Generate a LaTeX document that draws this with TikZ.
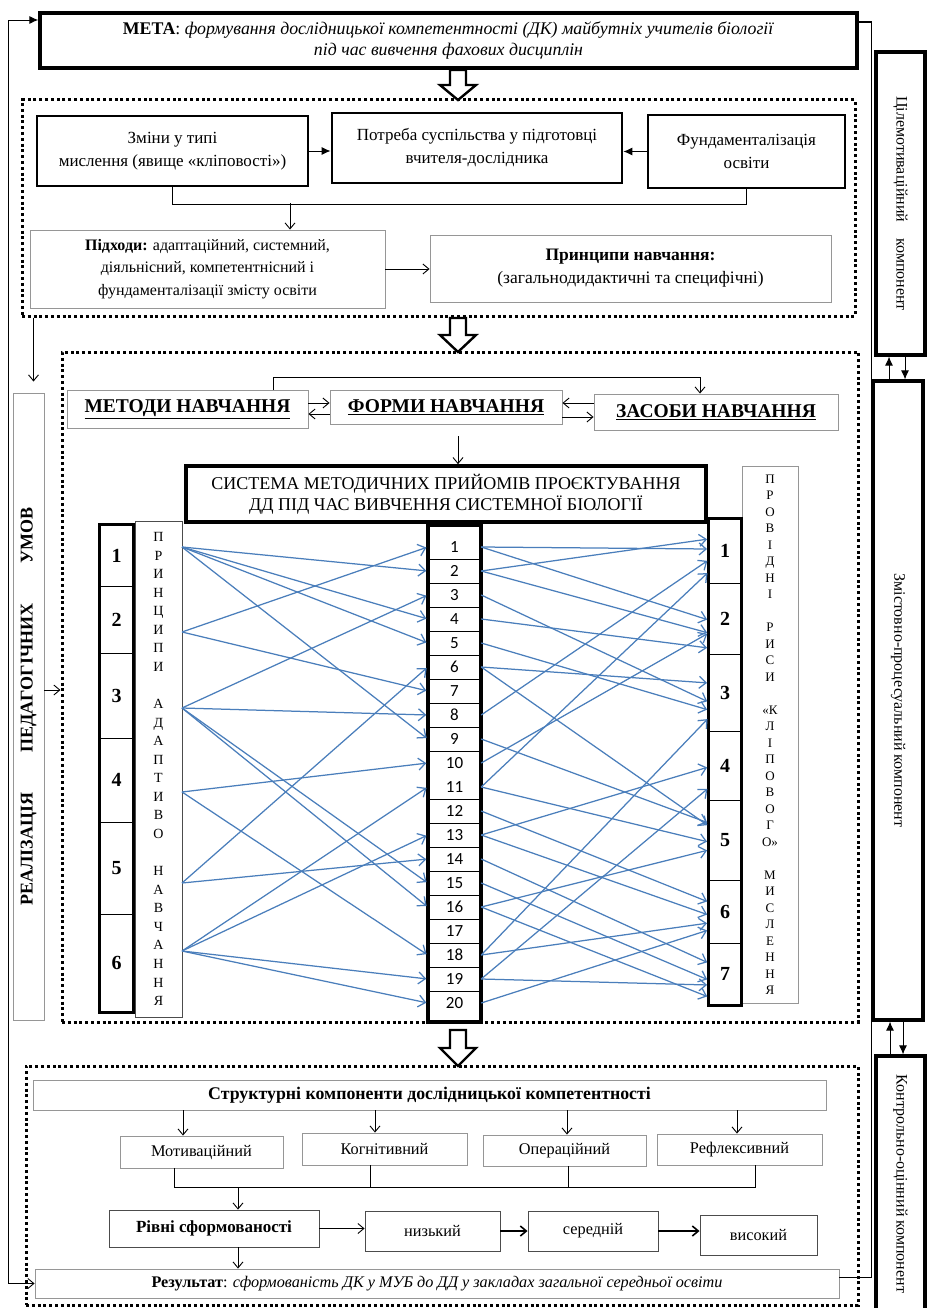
\documentclass[tikz,border=0pt]{standalone}
\usepackage{fontspec}
\setmainfont{Liberation Serif}
\newfontfamily\numfont{Carlito}
\usetikzlibrary{arrows.meta,positioning}
\definecolor{linkblue}{RGB}{74,126,187}
\definecolor{framegray}{RGB}{150,150,150}
\tikzset{
  >={Straight Barb[length=6pt,width=10pt]},
  bodyfont/.style={font=\fontsize{17}{23}\selectfont},
  thickbox/.style={draw, line width=2.8pt, align=center, inner sep=0pt, bodyfont},
  heavybox/.style={draw, line width=3.6pt, align=center, inner sep=0pt, bodyfont},
  thinbox/.style={draw=framegray, line width=0.9pt, align=center, inner sep=0pt, bodyfont},
  headbox/.style={thinbox, font=\fontsize{19.5}{22}\selectfont\bfseries},
  groupbox/.style={draw, line width=3pt, dash pattern=on 3pt off 2.8pt},
  numcell/.style={draw, line width=0.9pt, minimum width=33pt, inner sep=0pt, font=\fontsize{20}{24}\selectfont\bfseries},
  itemcell/.style={minimum width=53pt, minimum height=24pt, inner sep=0pt, font=\numfont\fontsize{17}{20}\selectfont},
  conn/.style={line width=0.9pt},
}
\begin{document}
\begin{tikzpicture}[x=1pt, y=-1pt]
\useasboundingbox (0,0) rectangle (928,1308);

% dotted groups
\node[groupbox, minimum width=833pt, minimum height=216pt] (grp1) at (438.5,208) {};
\node[groupbox, minimum width=796pt, minimum height=670pt] (grp2) at (460,687) {};
\node[groupbox, minimum width=832pt, minimum height=239pt] (grp3) at (442,1185.5) {};

% goal
\node[thickbox, line width=3.4pt, minimum width=817pt, minimum height=55pt, font=\fontsize{17.8}{21}\selectfont] (meta) at (448.5,40.5)
  {\textbf{МЕТА}: \textit{формування дослідницької компетентності (ДК) майбутніх учителів біології}\\ \textit{під час вивчення фахових дисциплін}};

% first group
\node[thickbox, minimum width=271pt, minimum height=70pt] (zm) at (172.5,151) {Зміни у типі\\мислення (явище «кліповості»)};
\node[thickbox, minimum width=290pt, minimum height=70pt] (pot) at (477,148) {Потреба суспільства у підготовці\\вчителя-дослідника};
\node[thickbox, minimum width=197pt, minimum height=73pt] (fund) at (746.5,151.5) {Фундаменталізація\\освіти};
\node[thinbox, minimum width=355pt, minimum height=78pt, font=\fontsize{16}{22.5}\selectfont] (pidh) at (207.5,269)
  {\textbf{Підходи:} адаптаційний, системний,\\діяльнісний, компетентнісний і\\фундаменталізації змісту освіти};
\node[thinbox, minimum width=401pt, minimum height=67pt, font=\fontsize{17.5}{23}\selectfont] (prin) at (630.5,268.5)
  {\textbf{Принципи навчання:}\\(загальнодидактичні та специфічні)};

\draw[conn, -{Latex[length=9pt,width=8pt]}] (zm.east) -- (zm.east -| pot.west);
\draw[conn, -{Latex[length=9pt,width=8pt]}] (fund.west) -- (fund.west -| pot.east);
\draw[conn] (zm.south) -- ++(0,17) -| (fund.south);
\coordinate (hub) at (290,203);
\draw[conn, ->] (hub) -- (hub |- pidh.north);
\draw[conn, ->] (pidh.east) -- (pidh.east -| prin.west);

% side column
\node[thinbox, minimum width=31pt, minimum height=627pt, font=\fontsize{18}{22}\selectfont\bfseries] (real) at (28.5,706.5)
  {\rotatebox{90}{РЕАЛІЗАЦІЯ\hspace{40pt}ПЕДАГОГІЧНИХ\hspace{40pt}УМОВ}};
\coordinate (gd) at ([xshift=13pt]grp1.south west);
\draw[conn, ->] (gd) -- ++(0,64);
\coordinate (rr) at ([yshift=16.5pt]real.east);
\draw[conn, ->] (rr) -- (rr -| grp2.west);

% methods, forms, means
\node[headbox, minimum width=241pt, minimum height=38pt] (met) at (187.5,409) {\underline{МЕТОДИ НАВЧАННЯ}};
\node[headbox, minimum width=232pt, minimum height=34pt] (form) at (446,407) {\underline{ФОРМИ НАВЧАННЯ}};
\node[headbox, minimum width=244pt, minimum height=36pt] (zas) at (716,412) {\underline{ЗАСОБИ НАВЧАННЯ}};
\coordinate (a1) at ([yshift=6pt]met.east);
\coordinate (a2) at ([yshift=-7pt]form.west);
\coordinate (a3) at ([yshift=9pt]zas.west);
\coordinate (a4) at ([yshift=-10pt]form.east);
\draw[conn, ->] (a1) -- (a1 -| form.west);
\draw[conn, ->] (a2) -- (a2 -| met.east);
\draw[conn, ->] (a3) -- (a3 -| form.east);
\draw[conn, ->] (a4) -- (a4 -| zas.west);
\coordinate (mtop) at ([xshift=85.5pt]met.north);
\coordinate (ztop) at ([xshift=-16pt]zas.north);
\draw[conn, ->] (mtop) -- ++(0,-12) -| (ztop);

\node[heavybox, minimum width=520pt, minimum height=56pt, font=\fontsize{18}{21}\selectfont] (sys) at (446,494)
  {СИСТЕМА МЕТОДИЧНИХ ПРИЙОМІВ ПРОЄКТУВАННЯ\\ДД ПІД ЧАС ВИВЧЕННЯ СИСТЕМНОЇ БІОЛОГІЇ};
\coordinate (fdrop) at ([xshift=12pt,yshift=-12pt]form.south);
\draw[conn, ->] (fdrop) -- (fdrop |- sys.north);

% principles of adaptive learning
\node[thinbox, draw=black!70, minimum width=47pt, minimum height=496pt, font=\fontsize{14}{18.56}\selectfont] (pr) at (158.5,769)
  {П\\Р\\И\\Н\\Ц\\И\\П\\И\\~\\А\\Д\\А\\П\\Т\\И\\В\\О\\~\\Н\\А\\В\\Ч\\А\\Н\\Н\\Я};
\node[numcell, minimum height=61pt] (l1) at (116.5,555.5) {1};
\node[numcell, minimum height=67pt] (l2) at (116.5,619.5) {2};
\node[numcell, minimum height=85pt] (l3) at (116.5,695.5) {3};
\node[numcell, minimum height=84pt] (l4) at (116.5,780) {4};
\node[numcell, minimum height=92pt] (l5) at (116.5,868) {5};
\node[numcell, minimum height=98pt] (l6) at (116.5,963) {6};
\draw[line width=3.6pt] (l1.north west) rectangle (l6.south east);

% methodical techniques
\foreach \i in {1,...,20}
  \node[itemcell] (m\i) at (454.5,{547+24*(\i-1)}) {\i};
\foreach \i in {1,...,9}
  \draw[line width=0.9pt] (m\i.south west) -- (m\i.south east);
\foreach \i in {11,...,19}
  \draw[line width=0.9pt] (m\i.south west) -- (m\i.south east);
\draw[line width=3.6pt] ([yshift=10pt]m1.north west) rectangle ([yshift=-7pt]m20.south east);

% leading features of clip thinking
\node[thinbox, minimum width=56pt, minimum height=537pt, font=\fontsize{13}{16.5}\selectfont] (rt) at (770,734.5)
  {П\\Р\\О\\В\\І\\Д\\Н\\І\\~\\Р\\И\\С\\И\\~\\«К\\Л\\І\\П\\О\\В\\О\\Г\\О»\\~\\М\\И\\С\\Л\\Е\\Н\\Н\\Я};
\node[numcell, minimum width=32pt, minimum height=64pt] (r1) at (725,551) {1};
\node[numcell, minimum width=32pt, minimum height=71pt] (r2) at (725,618.5) {2};
\node[numcell, minimum width=32pt, minimum height=77pt] (r3) at (725,692.5) {3};
\node[numcell, minimum width=32pt, minimum height=69pt] (r4) at (725,765.5) {4};
\node[numcell, minimum width=32pt, minimum height=80pt] (r5) at (725,840) {5};
\node[numcell, minimum width=32pt, minimum height=63pt] (r6) at (725,911.5) {6};
\node[numcell, minimum width=32pt, minimum height=62pt] (r7) at (725,974) {7};
\draw[line width=3.6pt] (r1.north west) rectangle (r7.south east);

% links
\coordinate (s1) at (182,547);
\coordinate (s2) at (182,632);
\coordinate (s3) at (182,708);
\coordinate (s4) at (182,792);
\coordinate (s5) at (182,883);
\coordinate (s6) at (182,951);
\begin{scope}[>={Straight Barb[length=7pt,width=12pt]},
              every edge/.style={draw=linkblue, line width=1.25pt, shorten >=1.5pt}]
  \foreach \s/\t in {1/2,1/4,1/5,1/9,2/1,2/7,3/3,3/8,3/15,3/16,4/10,4/18,5/6,5/14,6/11,6/13,6/19,6/20}
    \path[->] (s\s) edge (m\t.west);
  \foreach \s/\t/\d in {1/1/2,1/2/-1.5,2/1/12,2/2/-14.5,3/3/-9.5,4/2/-29.5,5/3/-17.5,6/3/9.5,6/5/14,
                        8/1/-9,9/5/17,10/2/-14.5,11/1/-21,11/5/-2,12/6/9.5,13/4/-1.5,13/6/-3.5,14/7/11,
                        15/7/-6,16/5/-10,16/7/-23,18/3/-25.5,18/6/-11.5,19/4/-22.5,19/7/-11,20/6/-18.5}
    \path[->] (m\s.east) edge ([yshift=\d pt]r\t.west);
\end{scope}

% third group
\node[thinbox, minimum width=793pt, minimum height=30pt, font=\fontsize{17.8}{20}\selectfont\bfseries] (str) at (429.5,1095)
  {Структурні компоненти дослідницької компетентності};
\node[thinbox, minimum width=163pt, minimum height=32pt, font=\fontsize{16.3}{20}\selectfont] (mot) at (201.5,1152) {Мотиваційний};
\node[thinbox, minimum width=165pt, minimum height=32pt, font=\fontsize{16.3}{20}\selectfont] (kog) at (384.5,1149) {Когнітивний};
\node[thinbox, minimum width=163pt, minimum height=31pt, font=\fontsize{16.3}{20}\selectfont] (oper) at (564.5,1150.5) {Операційний};
\node[thinbox, minimum width=165pt, minimum height=31pt, font=\fontsize{16.3}{20}\selectfont] (refl) at (739.5,1149.5) {Рефлексивний};
\foreach \n/\s in {mot/-18.5, kog/-9.5, oper/2.5, refl/-2.5} {
  \coordinate (t) at ([xshift=\s pt]\n.north);
  \draw[conn, ->] (t |- str.south) -- (t);
}
\coordinate (busL) at (174,1187);
\foreach \n/\s in {mot/-27.5, kog/-14.5, oper/3.5, refl/15.5}
  \draw[conn] ([xshift=\s pt]\n.south) |- (busL);

\node[thinbox, draw=black!70, minimum width=210pt, minimum height=37pt, font=\fontsize{17}{20}\selectfont\bfseries] (riv) at (214,1228.5) {Рівні сформованості};
\node[thinbox, draw=black!70, minimum width=135pt, minimum height=40pt, font=\fontsize{16.3}{20}\selectfont] (niz) at (432.5,1231) {низький};
\node[thinbox, draw=black!70, minimum width=130pt, minimum height=40pt, font=\fontsize{16.3}{20}\selectfont] (ser) at (593,1231) {середній};
\node[thinbox, draw=black!70, minimum width=117pt, minimum height=40pt, font=\fontsize{16.3}{20}\selectfont] (vys) at (758.5,1235) {високий};
\coordinate (rtop) at ([xshift=24pt]riv.north);
\draw[conn, ->] (rtop |- busL) -- (rtop);
\draw[conn, ->] (riv.east) -- (riv.east -| niz.west);
\draw[->, line width=1.6pt] (niz.east) -- (niz.east -| ser.west);
\draw[->, line width=1.6pt] (ser.east) -- (ser.east -| vys.west);

\node[thinbox, minimum width=804pt, minimum height=29pt, font=\fontsize{16.2}{20}\selectfont] (res) at (437,1283.5)
  {\textbf{Результат}: \textit{сформованість ДК у МУБ до ДД у закладах загальної середньої освіти}};
\coordinate (rdrop) at ([xshift=24pt]riv.south);
\draw[conn, ->] (rdrop) -- (rdrop |- res.north);

% outer loops
\draw[conn, {Latex[length=9pt,width=8pt]}->] ([yshift=20.5pt]meta.west) -- ++(-30,0) |- (res.west);
\draw[line width=1.2pt] ([yshift=18.5pt]meta.east) -- ++(13,0) |- ([yshift=6pt]res.east);

% components
\node[thickbox, line width=3.2pt, minimum width=49pt, minimum height=303pt, font=\fontsize{16}{20}\selectfont] (cil) at (900.5,203.5)
  {\rotatebox{-90}{Цілемотиваційний\quad компонент}};
\node[thickbox, line width=3.2pt, minimum width=50pt, minimum height=639pt, font=\fontsize{16}{20}\selectfont] (zmi) at (898,700.5)
  {\rotatebox{-90}{Змістовно-процесуальний компонент}};
\node[thickbox, line width=3.2pt, minimum width=49pt, minimum height=256pt, font=\fontsize{16}{20}\selectfont] (kon) at (900.5,1184)
  {\rotatebox{-90}{Контрольно-оцінний компонент}};
\coordinate (u1) at ([xshift=-9pt]zmi.north);
\coordinate (d1) at ([xshift=4.5pt]cil.south);
\coordinate (u2) at ([xshift=-8pt]zmi.south);
\coordinate (d2) at ([xshift=5pt]zmi.south);
\draw[conn, -{Latex[length=9pt,width=8pt]}] (u1) -- (u1 |- cil.south);
\draw[conn, -{Latex[length=9pt,width=8pt]}] (d1) -- (d1 |- zmi.north);
\draw[conn, -{Latex[length=9pt,width=8pt]}] (u2 |- kon.north) -- (u2);
\draw[conn, -{Latex[length=9pt,width=8pt]}] (d2) -- (d2 |- kon.north);

% hollow block arrows
\foreach \t/\b in {70/100, 318/352, 1030/1066} {
  \pgfmathsetmacro\mid{(\t+\b)/2}
  \draw[line width=2.4pt, fill=white] (450,\t) -- (466,\t) -- (466,\mid) -- (476,\mid) -- (458,\b) -- (440,\mid) -- (450,\mid) -- cycle;
}
\end{tikzpicture}
\end{document}
